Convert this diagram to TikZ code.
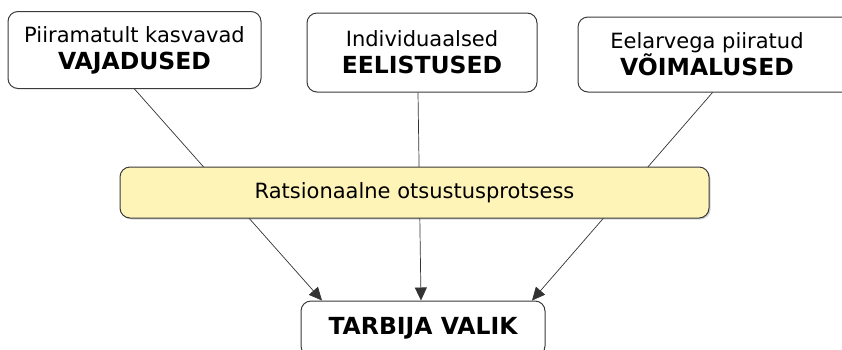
\documentclass[tikz,border=0pt]{standalone}
\usepackage{fontspec}
\setmainfont{DejaVu Sans}
\usetikzlibrary{arrows.meta,shadows,calc}
\definecolor{boxline}{HTML}{3A3A3A}
\definecolor{procfill}{HTML}{FFF4B8}
\newcommand{\heading}[1]{{\fontsize{23.5}{27}\selectfont\bfseries #1}}
\begin{document}
\begin{tikzpicture}[x=1pt,y=-1pt,
  box/.style={draw=boxline, line width=1pt, rounded corners=10pt, fill=white, inner sep=0pt},
  txt/.style={align=center, inner sep=0pt, font=\fontsize{21}{27}\selectfont},
  proc/.style={box, fill=procfill, drop shadow={shadow xshift=1.5pt, shadow yshift=-1.5pt, opacity=0.35}},
  link/.style={draw=black!80, line width=0.7pt, -{Triangle[length=13pt,width=12pt]}}
]
\useasboundingbox (0,0) rectangle (842,349);

% three factor boxes
\node[box, txt, minimum width=253, minimum height=77] (need) at (134.5,50)
  {Piiramatult kasvavad\\\heading{VAJADUSED}};
\node[box, txt, minimum width=230, minimum height=79] (pref) at (422,52.5)
  {Individuaalsed\\\heading{EELISTUSED}};
\node[box, minimum width=322, minimum height=75] (poss) at (739,54.5) {};
\node[txt] (posst) at (707,54) {Eelarvega piiratud\\\heading{VÕIMALUSED}};

% result box
\node[box, txt, minimum width=244, minimum height=55] (choice) at (423,328.5)
  {\heading{TARBIJA VALIK}};

% connector end points
\coordinate (needout) at ($(need.south)+(0,0)$);
\coordinate (prefout) at ($(pref.south)+(-4,0)$);
\coordinate (possout) at ($(poss.south west)+(135,0)$);
\coordinate (in1) at ($(choice.north)+(-101,0)$);
\coordinate (in2) at ($(choice.north)+(-2,0)$);
\coordinate (in3) at ($(choice.north)+(109,0)$);

\draw[link] (needout) -- (in1);
\draw[link] (prefout) -- (in2);
\draw[link] (possout) -- (in3);

% decision process bar drawn over the connectors
\node[proc, txt, minimum width=589, minimum height=51] (proc) at (414.5,192.5)
  {Ratsionaalne otsustusprotsess};
\end{tikzpicture}
\end{document}
